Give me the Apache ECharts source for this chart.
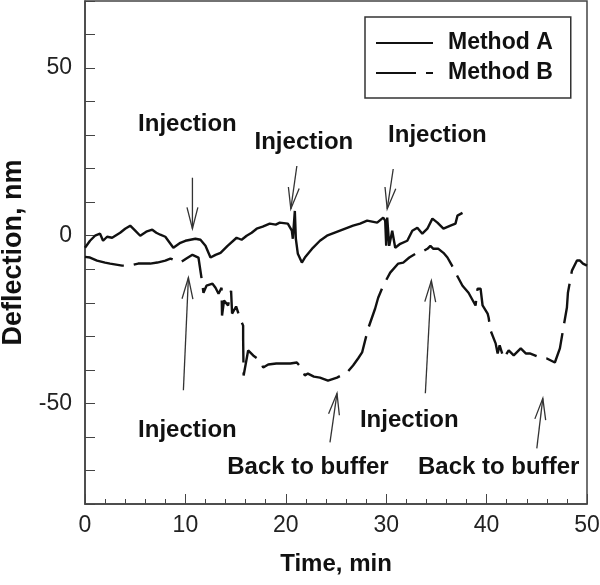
<!DOCTYPE html>
<html>
<head>
<meta charset="utf-8">
<script src="https://cdn.jsdelivr.net/npm/echarts@6/dist/echarts.min.js"></script>
<style>
  html, body { margin: 0; padding: 0; background: #fff; }
  #chart { width: 600px; height: 585px; }
</style>
</head>
<body>
<div id="chart"></div>
<script>
// Method A: [time min, deflection nm]
const methodA = [
  [0, -3.6], [0.5, -1.5], [1.0, 0], [1.5, 0.6], [1.8, -1.5], [2.2, -0.3], [2.7, -0.6],
  [3.5, 0.9], [4.0, 2.1], [4.5, 3.0], [5.0, 1.5], [5.5, 0], [6.1, 1.2], [6.7, 1.8],
  [7.1, 0.9], [7.5, 0.3], [8.0, -0.3], [8.8, -3.6], [9.5, -2.1], [10.0, -1.5], [10.5, -1.2],
  [11.0, -0.9], [11.5, -1.2], [12.0, -3.0], [12.5, -6.5], [13.0, -5.7], [13.5, -5.1],
  [14.2, -3.0], [15.1, -0.6], [15.6, -1.2], [16.1, 0], [16.6, 0.9], [17.1, 2.1],
  [17.7, 2.7], [18.4, 3.6], [19.0, 3.3], [19.4, 3.9], [20.2, 3.6], [20.6, 1.5],
  [20.7, -0.9], [20.9, 7.4], [21.0, -0.9], [21.2, -5.4], [21.6, -8.0], [21.9, -6.5],
  [22.7, -3.6], [23.4, -1.5], [24.1, 0], [25.4, 1.5], [26.7, 3.0], [27.4, 3.6],
  [28.1, 4.5], [29.1, 3.9], [29.7, 5.4], [29.9, 4.5], [30.0, -3.0], [30.1, 5.4],
  [30.3, -3.0], [30.6, 1.5], [30.9, -3.6], [31.4, -2.4], [32.1, -1.5], [32.6, 1.5],
  [33.1, 2.4], [33.6, 0.6], [34.1, 2.1], [34.6, 5.1], [35.1, 3.9], [35.7, 2.1],
  [36.4, 3.0], [36.9, 3.6], [37.1, 6.0], [37.6, 6.8]
];

// Method B: [time min, deflection nm]
const methodB = [
  [0, -6.3], [0.5, -6.5], [1.2, -7.4], [2.0, -8.0], [2.5, -8.3], [3.1, -8.6], [3.7, -8.9],
  [4.5, -8.9], [5.3, -8.3], [6.5, -8.3], [7.2, -8.0], [8.0, -7.4], [8.5, -6.8],
  [9.0, -7.4], [9.5, -8.0], [10.1, -6.8], [10.7, -5.7], [11.3, -6.5], [11.6, -12.5],
  [11.8, -17.0], [12.1, -14.9], [12.7, -14.3], [13.0, -15.5], [13.3, -17.3], [13.6, -15.5],
  [13.65, -23.8], [13.85, -19.3], [14.25, -20.8], [14.55, -16.4], [14.65, -23.2],
  [15.05, -21.1], [15.45, -24.7], [15.75, -26.8], [15.75, -30.7], [15.8, -41.7],
  [16.25, -34.2], [16.75, -35.7], [17.45, -37.2], [17.75, -39.3], [18.25, -38.4],
  [19.05, -38.1], [19.75, -38.1], [20.45, -38.1], [21.1, -37.8], [21.6, -39.6],
  [21.9, -41.7], [22.2, -41.1], [22.8, -42.0], [23.4, -42.3], [24.2, -43.2], [25.1, -42.3],
  [26.1, -40.8], [26.7, -38.7], [27.2, -36.6], [27.6, -34.8], [28.2, -27.7], [28.9, -21.7],
  [29.2, -18.5], [29.7, -14.9], [30.4, -11.0], [31.2, -8.3], [31.7, -8.0], [32.3, -6.5],
  [32.9, -5.4], [33.4, -5.1], [34.1, -3.9], [34.4, -3.0], [34.7, -3.9], [35.2, -3.9],
  [35.7, -5.1], [36.1, -6.5], [36.5, -8.6], [36.9, -11.0], [37.6, -14.9], [38.2, -17.0],
  [38.9, -20.8], [39.1, -15.8], [39.4, -15.8], [39.6, -20.8], [40.1, -23.2], [40.2, -24.4],
  [40.4, -28.3], [40.9, -32.1], [41.1, -35.1], [41.3, -32.7], [41.7, -36.6], [42.2, -34.2],
  [42.7, -35.7], [43.4, -33.6], [43.9, -35.1], [44.3, -35.1], [44.8, -35.7], [45.3, -36.3],
  [46.0, -36.6], [46.8, -37.8], [47.3, -33.6], [47.6, -28.3], [48.0, -21.4], [48.1, -17.0],
  [48.5, -10.4], [49.0, -7.4], [49.3, -7.4], [49.6, -8.3], [50.0, -8.9]
];

// annotations (data coords)
const noteLabels = ['Injection', 'Injection', 'Injection', 'Injection', 'Back to buffer', 'Injection', 'Back to buffer'];
const noteTextPos = [[10.2, 33.3], [21.8, 27.7], [35.1, 29.8], [10.2, -58.0], [22.2, -69.0], [32.3, -55.1], [41.2, -69.0]];
const arrowFrom = [[10.7, 17.3], [21.1, 20.8], [30.7, 19.9], [9.8, -46.1], [24.4, -61.6], [33.9, -47.0], [45.0, -63.4]];
const arrowTo = [[10.7, 2.1], [20.5, 8.0], [30.1, 8.0], [10.3, -12.5], [25.1, -47.0], [34.5, -13.4], [45.6, -48.5]];

const FONT = '"Liberation Sans", Arial, sans-serif';
const chart = echarts.init(document.getElementById('chart'));

chart.setOption({
  animation: false,
  grid: {
    left: 85, right: 13, top: 1, bottom: 81,
    outerBoundsMode: 'none',
    show: true, borderColor: '#444', borderWidth: 1.5
  },
  legend: {
    data: ['Method A', 'Method B'],
    orient: 'vertical',
    left: 365, top: 17,
    padding: [14, 18, 13, 10],
    itemWidth: 57, itemHeight: 14, itemGap: 6,
    borderColor: '#333', borderWidth: 1.5,
    itemStyle: { opacity: 0, borderWidth: 0 },
    textStyle: { fontFamily: FONT, fontWeight: 'bold', fontSize: 23, color: '#111', lineHeight: 24, padding: [0, 0, 0, 10] }
  },
  xAxis: {
    type: 'value', min: 0, max: 50, interval: 10,
    name: 'Time, min', nameLocation: 'middle', nameGap: 48,
    nameTextStyle: { fontFamily: FONT, fontWeight: 'bold', fontSize: 24, color: '#111' },
    axisLine: { onZero: false, lineStyle: { color: '#444', width: 1.5 } },
    axisTick: { inside: true, length: 10, lineStyle: { color: '#444' } },
    minorTick: { show: true, splitNumber: 5, length: 5, lineStyle: { color: '#444' } },
    axisLabel: { fontFamily: FONT, fontSize: 23, color: '#222', margin: 10 },
    splitLine: { show: false }
  },
  yAxis: {
    type: 'value', min: -80, max: 70, interval: 10,
    name: 'Deflection, nm', nameLocation: 'middle', nameGap: 58,
    nameTextStyle: { fontFamily: FONT, fontWeight: 'bold', fontSize: 27, color: '#111' },
    axisLine: { show: true, onZero: false, lineStyle: { color: '#444', width: 1.5 } },
    axisTick: { inside: true, length: 10, lineStyle: { color: '#444' } },
    axisLabel: {
      fontFamily: FONT, fontSize: 23, color: '#222', margin: 13,
      formatter: (v) => (v % 50 === 0 ? String(v) : '')
    },
    splitLine: { show: false }
  },
  series: [
    {
      name: 'Method A', type: 'line', data: methodA, symbol: 'none',
      lineStyle: { color: '#111', width: 2.4 }, itemStyle: { color: '#111' }
    },
    {
      name: 'Method B', type: 'line', data: methodB, symbol: 'none',
      lineStyle: { color: '#111', width: 2.4, type: [40, 10] }, itemStyle: { color: '#111' }
    },
    {
      type: 'custom', silent: true, z: 5,
      data: noteLabels.map((s, i) => [noteTextPos[i][0], noteTextPos[i][1], i]),
      renderItem: (params, api) => {
        const i = api.value(2);
        const t = api.coord(noteTextPos[i]);
        const p0 = api.coord(arrowFrom[i]);
        const p1 = api.coord(arrowTo[i]);
        const ang = Math.atan2(p1[1] - p0[1], p1[0] - p0[0]);
        const L = 22, a = 0.25;
        const h1 = [p1[0] - L * Math.cos(ang - a), p1[1] - L * Math.sin(ang - a)];
        const h2 = [p1[0] - L * Math.cos(ang + a), p1[1] - L * Math.sin(ang + a)];
        return {
          type: 'group',
          children: [
            {
              type: 'text',
              style: {
                text: noteLabels[i], x: t[0], y: t[1], align: 'center', verticalAlign: 'middle',
                fontFamily: FONT, fontWeight: 'bold', fontSize: 24, fill: '#111'
              }
            },
            { type: 'polyline', shape: { points: [p0, p1] }, style: { stroke: '#333', lineWidth: 1.3, fill: null } },
            { type: 'polyline', shape: { points: [h1, p1, h2] }, style: { stroke: '#333', lineWidth: 1.3, fill: null } }
          ]
        };
      }
    }
  ]
});
</script>
</body>
</html>
